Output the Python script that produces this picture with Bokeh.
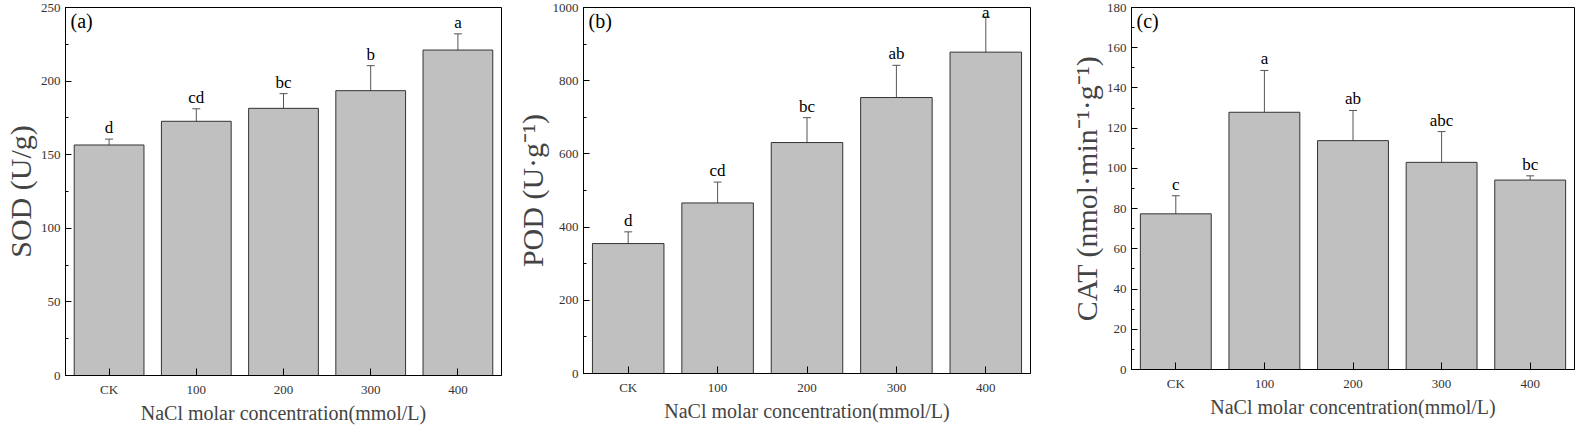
from bokeh.plotting import figure
from bokeh.layouts import row
from bokeh.models import ColumnDataSource, Whisker, TeeHead, Label, Range1d, FixedTicker, SingleIntervalTicker
from bokeh.embed import file_html
from bokeh.resources import INLINE
from bokeh.core.properties import value

categories = ["CK", "100", "200", "300", "400"]

sod_mean = [156.6, 172.7, 181.5, 193.5, 221.1]
sod_err = [4.0, 8.5, 10.0, 17.0, 11.0]
sod_letters = ["d", "cd", "bc", "b", "a"]

pod_mean = [355, 466, 631, 754, 878]
pod_err = [32, 57, 68, 88, 96]
pod_letters = ["d", "cd", "bc", "ab", "a"]

cat_mean = [77.4, 127.9, 113.8, 103.0, 94.2]
cat_err = [9.0, 20.8, 15.0, 15.3, 2.1]
cat_letters = ["c", "a", "ab", "abc", "bc"]

FONT = "Liberation Serif"


def panel(mean, err, letters, ymax, interval, ylabel, tag, fw, fh, bl, br, bb):
    xs = list(range(len(categories)))
    upper = [m + e for m, e in zip(mean, err)]
    src = ColumnDataSource(dict(
        x=xs, top=mean,
        upper=upper,
        lower=[m - e for m, e in zip(mean, err)],
        laby=[min(u, ymax * 0.955) for u in upper],
        lab=letters,
    ))
    p = figure(frame_width=fw, frame_height=fh, output_backend="svg", toolbar_location=None,
               x_range=Range1d(-0.5, len(categories) - 0.5), y_range=Range1d(0, ymax),
               min_border_left=bl, min_border_right=br, min_border_top=7, min_border_bottom=bb)
    p.grid.visible = False
    p.outline_line_color = "black"
    p.outline_line_width = 1
    p.vbar(x="x", top="top", width=0.8, source=src, fill_color="#c0c0c0",
           line_color="#333333", line_width=1)
    wh = Whisker(base="x", upper="upper", lower="lower", source=src,
                 line_color="#555555", line_width=1,
                 upper_head=TeeHead(size=8, line_color="#555555", line_width=1),
                 lower_head=TeeHead(size=8, line_color="#555555", line_width=1))
    p.add_layout(wh)
    p.text(x="x", y="laby", text="lab", source=src, text_align="center",
           text_baseline="bottom", y_offset=-2, text_font=value(FONT),
           text_font_size="17px", text_color="black")
    p.add_layout(Label(x=-0.5, y=ymax, x_offset=5, y_offset=-2, text=tag,
                       text_baseline="top", text_font=FONT, text_font_size="20px",
                       text_color="black"))
    # x axis
    xa = p.xaxis[0]
    xa.ticker = FixedTicker(ticks=xs)
    xa.major_label_overrides = {i: c for i, c in enumerate(categories)}
    xa.axis_label = "NaCl molar concentration(mmol/L)"
    xa.axis_label_text_font = FONT
    xa.axis_label_text_font_style = "normal"
    xa.axis_label_text_font_size = "20px"
    xa.axis_label_standoff = 2
    xa.major_tick_in = 7
    xa.major_tick_out = 0
    xa.major_label_standoff = 6
    # y axis
    ya = p.yaxis[0]
    ya.ticker = SingleIntervalTicker(interval=interval, num_minor_ticks=2)
    ya.axis_label = ylabel
    ya.axis_label_text_font = FONT
    ya.axis_label_text_font_style = "normal"
    ya.axis_label_text_font_size = "30px"
    ya.axis_label_standoff = 1
    ya.major_tick_in = 6
    ya.major_tick_out = 0
    ya.minor_tick_in = 3
    ya.minor_tick_out = 0
    ya.major_label_standoff = 5
    for ax in (xa, ya):
        ax.major_label_text_font = FONT
        ax.major_label_text_font_size = "13px"
        ax.major_label_text_color = "#333333"
        ax.axis_line_color = "black"
        ax.major_tick_line_color = "black"
    xa.minor_tick_line_color = None
    ya.minor_tick_line_color = "black"
    return p


pa = panel(sod_mean, sod_err, sod_letters, 250, 50, "SOD (U/g)", "(a)", 436, 368, 58, 11, 47)
pb = panel(pod_mean, pod_err, pod_letters, 1000, 200, "POD (U·g⁻¹)", "(b)", 447, 366, 65, 36, 49)
pc = panel(cat_mean, cat_err, cat_letters, 180, 20, "CAT (nmol·min⁻¹·g⁻¹)", "(c)", 443, 362, 58, 25, 53)

layout = row(pa, pb, pc, spacing=0)
open("out.html", "w").write(file_html(layout, INLINE))
